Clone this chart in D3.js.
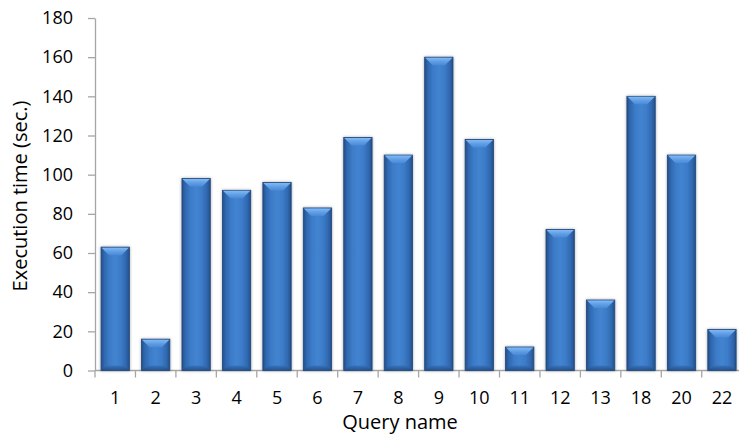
<!DOCTYPE html>
<html>
<head>
<meta charset="utf-8">
<script src="https://cdn.jsdelivr.net/npm/d3@7/dist/d3.min.js"></script>
<style>
  html, body { margin: 0; padding: 0; background: #fff; }
  svg { display: block; }
  text { font-family: "Open Sans", "DejaVu Sans", sans-serif; fill: #000; }
</style>
</head>
<body>
<svg id="chart" width="739" height="434"></svg>
<script>
// Query execution times in seconds
const queries = ["1", "2", "3", "4", "5", "6", "7", "8", "9", "10", "11", "12", "13", "18", "20", "22"];
const seconds = [63, 16, 98, 92, 96, 83, 119, 110, 160, 118, 12, 72, 36, 140, 110, 21];
const yTicks = [0, 20, 40, 60, 80, 100, 120, 140, 160, 180];
const xTitle = "Query name";
const yTitle = "Execution time (sec.)";

const svg = d3.select("#chart");
const plotLeft = 95, plotTop = 18, plotBottom = 370.5, step = 40.45;
const plotRight = plotLeft + step * queries.length;

const x = d3.scaleBand().domain(queries).range([plotLeft, plotRight]).paddingInner(0.3).paddingOuter(0.15);
const y = d3.scaleLinear().domain([0, 180]).range([plotBottom, plotTop]);

const defs = svg.append("defs");

// Bar body: darker at the sides, brighter in the middle
const body = defs.append("linearGradient").attr("id", "barBody").attr("x1", 0).attr("x2", 1).attr("y1", 0).attr("y2", 0);
[[0, "#244f89"], [0.12, "#3068b0"], [0.3, "#3c7bc8"], [0.5, "#4384d1"], [0.7, "#3c7bc8"], [0.88, "#3068b0"], [1, "#244f89"]]
  .forEach(([o, c]) => body.append("stop").attr("offset", o).attr("stop-color", c));

// Top bevel: light at the edge fading downwards
const bevel = defs.append("linearGradient").attr("id", "barBevel").attr("x1", 0).attr("x2", 0).attr("y1", 0).attr("y2", 1);
[[0, "#82b9f4"], [0.5, "#609ee5"], [1, "#4a89d6"]]
  .forEach(([o, c]) => bevel.append("stop").attr("offset", o).attr("stop-color", c));

// Bottom bevel: slightly darker
const base = defs.append("linearGradient").attr("id", "barBase").attr("x1", 0).attr("x2", 0).attr("y1", 0).attr("y2", 1);
[[0, "#3570b8"], [1, "#224c83"]]
  .forEach(([o, c]) => base.append("stop").attr("offset", o).attr("stop-color", c));

const shadow = defs.append("filter").attr("id", "barShadow").attr("x", "-30%").attr("y", "-10%").attr("width", "160%").attr("height", "120%");
shadow.append("feDropShadow").attr("dx", 0).attr("dy", 0).attr("stdDeviation", 1.6)
  .attr("flood-color", "#000").attr("flood-opacity", 0.35);

// Axes
const axisColor = "#a6a6a6";
const yAxis = svg.append("g").attr("transform", `translate(${plotLeft},0)`)
  .call(d3.axisLeft(y).tickValues(yTicks).tickSize(7).tickPadding(15).tickSizeOuter(0));
yAxis.select(".domain").attr("stroke", axisColor).attr("stroke-width", 1.3);
yAxis.selectAll(".tick line").attr("stroke", axisColor).attr("stroke-width", 1.3);
yAxis.selectAll(".tick text").style("font-size", "18px").style("font-family", "'Open Sans', sans-serif").attr("fill", "#000");

const xAxis = svg.append("g");
xAxis.append("line").attr("x1", plotLeft).attr("x2", plotRight).attr("y1", plotBottom).attr("y2", plotBottom)
  .attr("stroke", axisColor).attr("stroke-width", 1.3);
xAxis.selectAll("line.tick").data(d3.range(queries.length + 1)).join("line")
  .attr("class", "tick")
  .attr("x1", i => plotLeft + i * x.step()).attr("x2", i => plotLeft + i * x.step())
  .attr("y1", plotBottom).attr("y2", plotBottom + 7)
  .attr("stroke", axisColor).attr("stroke-width", 1.3);
xAxis.selectAll("text").data(queries).join("text")
  .attr("x", d => x(d) + x.bandwidth() / 2)
  .attr("y", 404)
  .attr("text-anchor", "middle")
  .style("font-size", "18px")
  .text(d => d);

// Bars
const bw = x.bandwidth();
const bars = svg.append("g").selectAll("g").data(queries.map((q, i) => ({ q, v: seconds[i] }))).join("g")
  .attr("transform", d => `translate(${x(d.q)},${y(d.v)})`);

bars.append("rect")
  .attr("width", bw)
  .attr("height", d => plotBottom - y(d.v))
  .attr("fill", "url(#barBody)")
  .attr("stroke", "#1f467a").attr("stroke-width", 0.8)
  .attr("filter", "url(#barShadow)");

const bev = 8;
bars.append("path")
  .attr("d", `M0.5,0.5 L${bw - 0.5},0.5 L${bw - bev},${bev} L${bev},${bev} Z`)
  .attr("fill", "url(#barBevel)");

bars.append("path")
  .attr("d", d => {
    const h = plotBottom - y(d.v);
    const b = Math.min(5, h / 3);
    return `M0.5,${h - 0.5} L${bw - 0.5},${h - 0.5} L${bw - b},${h - b} L${b},${h - b} Z`;
  })
  .attr("fill", "url(#barBase)")
  .attr("opacity", 0.8);

// Axis titles
svg.append("text")
  .attr("x", 400).attr("y", 429)
  .attr("text-anchor", "middle")
  .style("font-size", "20px")
  .text(xTitle);

svg.append("text")
  .attr("transform", "translate(27,196) rotate(-90)")
  .attr("text-anchor", "middle")
  .style("font-size", "20px")
  .text(yTitle);
</script>
</body>
</html>
